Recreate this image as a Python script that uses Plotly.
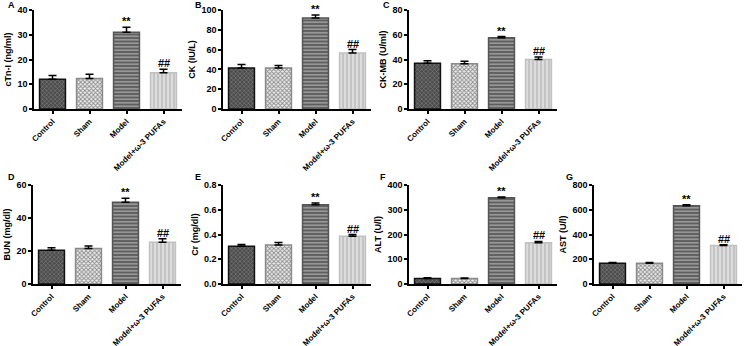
import plotly.graph_objects as go

W, H = 745, 346

categories = ["Control", "Sham", "Model", "Model+ω-3 PUFAs"]

panel_letters = ["A", "B", "C", "D", "E", "F", "G"]
y_titles = ["cTn-I (ng/ml)", "CK (IU/L)", "CK-MB (U/ml)", "BUN (mg/dl)",
            "Cr (mg/dl)", "ALT (U/l)", "AST (U/l)"]

cTnI_mean = [12.0, 12.3, 31.0, 14.6]
cTnI_err = [1.5, 1.7, 2.0, 1.5]
CK_mean = [41.5, 41.5, 92.0, 56.5]
CK_err = [3.5, 2.5, 3.0, 3.5]
CKMB_mean = [37.0, 36.5, 57.5, 40.0]
CKMB_err = [2.0, 2.0, 1.0, 2.0]
BUN_mean = [20.5, 21.5, 49.5, 25.3]
BUN_err = [1.5, 1.5, 2.5, 2.2]
Cr_mean = [0.305, 0.315, 0.64, 0.385]
Cr_err = [0.015, 0.02, 0.015, 0.015]
ALT_mean = [22, 22, 348, 167]
ALT_err = [3, 2, 4, 5]
AST_mean = [168, 168, 632, 312]
AST_err = [6, 5, 8, 6]

y_max = [40, 100, 80, 60, 0.8, 400, 800]
y_dtick = [10, 20, 20, 20, 0.2, 100, 200]
sig_labels = ["", "", "**", "##"]

means = [cTnI_mean, CK_mean, CKMB_mean, BUN_mean, Cr_mean, ALT_mean, AST_mean]
errs = [cTnI_err, CK_err, CKMB_err, BUN_err, Cr_err, ALT_err, AST_err]

# layout geometry (pixels)
x_left = [34, 223, 409, 33, 223, 409, 594]
panel_w = 148
row_top = [10, 10, 10, 185, 185, 185, 185]
row_bot = [109, 109, 109, 284, 284, 284, 284]
letter_pos = [(6, 5), (193, 5), (381, 5), (6, 177), (193, 177), (378, 177), (564, 177)]

bar_styles = [
    dict(bg="#4c4c4c", fg="#8a8a8a", shape="x", size=3, sol=0.3, line="#111111"),
    dict(bg="#ececec", fg="#8c8c8c", shape="x", size=3, sol=0.5, line="#8a8a8a"),
    dict(bg="#5e5e5e", fg="#d0d0d0", shape="-", size=3.5, sol=0.25, line="#555555"),
    dict(bg="#c4c4c4", fg="#efefef", shape="|", size=4, sol=0.3, line="#c0c0c0"),
]

font_fam = "Liberation Sans, Arial, sans-serif"
fig = go.Figure()
annotations = []
layout_axes = {}

for p in range(7):
    ax = "" if p == 0 else str(p + 1)
    for i, cat in enumerate(categories):
        st = bar_styles[i]
        fig.add_trace(go.Bar(
            x=[cat], y=[means[p][i]],
            xaxis="x" + ax, yaxis="y" + ax,
            width=0.7,
            marker=dict(
                color=st["bg"],
                line=dict(color=st["line"], width=1.5),
                pattern=dict(shape=st["shape"], bgcolor=st["bg"], fgcolor=st["fg"],
                             size=st["size"], solidity=st["sol"], fillmode="replace"),
            ),
            error_y=dict(type="data", array=[errs[p][i]], arrayminus=[0], symmetric=False,
                         color="black", thickness=1.5, width=4),
            showlegend=False,
        ))
        if sig_labels[i]:
            annotations.append(dict(
                x=cat, y=means[p][i] + errs[p][i], xref="x" + ax, yref="y" + ax,
                text="<b>" + sig_labels[i] + "</b>", showarrow=False, yanchor="bottom",
                yshift=-2, font=dict(family=font_fam, size=11, color="black"),
            ))
    x0 = x_left[p] / W
    x1 = (x_left[p] + panel_w) / W
    y0 = 1 - row_bot[p] / H
    y1 = 1 - row_top[p] / H
    layout_axes["xaxis" + ax] = dict(
        domain=[x0, x1], anchor="y" + ax, range=[-0.5, 3.5],
        categoryorder="array", categoryarray=categories,
        showline=True, linecolor="black", linewidth=1.5, ticks="outside",
        ticklen=3, tickwidth=1.5, tickcolor="black", tickangle=-45,
        automargin=False,
        showgrid=False, zeroline=False,
        tickfont=dict(family=font_fam, size=8, color="black", weight="bold"),
    )
    layout_axes["yaxis" + ax] = dict(
        domain=[y0, y1], anchor="x" + ax, range=[0, y_max[p]], dtick=y_dtick[p],
        tickformat=".1f" if p == 4 else "d",
        showline=True, linecolor="black", linewidth=1.5, ticks="outside",
        ticklen=3, tickwidth=1.5, tickcolor="black",
        showgrid=False, zeroline=False,
        tickfont=dict(family=font_fam, size=9, color="black", weight="bold"),
        title=dict(text=y_titles[p], standoff=4,
                   font=dict(family=font_fam, size=9, color="black", weight="bold")),
        automargin=False,
    )
    lx, ly = letter_pos[p]
    annotations.append(dict(
        x=lx / W, y=1 - ly / H, xref="paper", yref="paper", xanchor="left", yanchor="middle",
        text="<b>" + panel_letters[p] + "</b>", showarrow=False,
        font=dict(family=font_fam, size=9, color="black"),
    ))

fig.update_layout(
    width=W, height=H, autosize=False,
    margin=dict(l=0, r=0, t=0, b=0),
    paper_bgcolor="white", plot_bgcolor="white",
    font=dict(family=font_fam, size=9, color="black"),
    bargap=0.3,
    annotations=annotations,
    **layout_axes,
)

fig.write_html("out.html", config={"displayModeBar": False},
               post_script="document.body.style.margin='0';")
